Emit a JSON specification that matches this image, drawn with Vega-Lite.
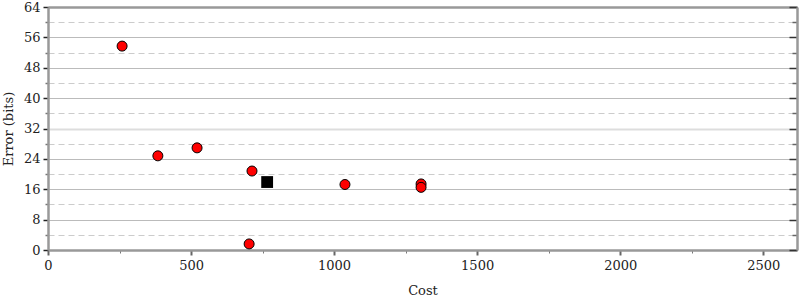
{
  "$schema": "https://vega.github.io/schema/vega-lite/v6.json",
  "autosize": "none",
  "width": 749,
  "height": 243,
  "padding": {"left": 48, "top": 7, "right": 3, "bottom": 50},
  "config": {
    "view": {"stroke": null},
    "font": "DejaVu Serif",
    "axis": {
      "labelFont": "DejaVu Serif",
      "titleFont": "DejaVu Serif",
      "labelFontSize": 13,
      "titleFontSize": 13,
      "titleFontWeight": "normal",
      "labelColor": "#222",
      "titleColor": "#222",
      "domainColor": "#999",
      "domainWidth": 2.5
    }
  },
  "data": {
    "values": [
      {"cost": 259, "error": 53.7, "kind": "alt"},
      {"cost": 384, "error": 24.8, "kind": "alt"},
      {"cost": 521, "error": 26.9, "kind": "alt"},
      {"cost": 713, "error": 20.8, "kind": "alt"},
      {"cost": 703, "error": 1.6, "kind": "alt"},
      {"cost": 1038, "error": 17.25, "kind": "alt"},
      {"cost": 1304, "error": 17.4, "kind": "alt"},
      {"cost": 1304, "error": 16.5, "kind": "alt"},
      {"cost": 766, "error": 17.9, "kind": "input"}
    ]
  },
  "layer": [
    {
      "transform": [{"filter": "datum.kind === 'alt'"}],
      "mark": {"type": "point", "shape": "circle", "filled": true, "fill": "#ff0000", "stroke": "#000", "strokeWidth": 1, "size": 100, "opacity": 1},
      "encoding": {
        "x": {
          "field": "cost", "type": "quantitative",
          "scale": {"domain": [0, 2618], "nice": false, "zero": false},
          "axis": {
            "orient": "bottom",
            "title": "Cost",
            "values": [0, 250, 500, 750, 1000, 1250, 1500, 1750, 2000, 2250, 2500],
            "labelExpr": "datum.value % 500 === 0 ? datum.label : ''",
            "grid": false,
            "tickSize": {"condition": {"test": "datum.value % 500 === 0", "value": 5}, "value": 3},
            "tickColor": {"condition": {"test": "datum.value % 500 === 0", "value": "#666"}, "value": "#777"},
            "tickWidth": {"condition": {"test": "datum.value % 500 === 0", "value": 2}, "value": 1},
            "labelPadding": 4,
            "titlePadding": 12,
            "format": "d",
            "labelFlush": false
          }
        },
        "y": {
          "field": "error", "type": "quantitative",
          "scale": {"domain": [0, 64], "nice": false},
          "axis": {
            "orient": "left",
            "title": "Error (bits)",
            "values": [0, 4, 8, 12, 16, 20, 24, 28, 32, 36, 40, 44, 48, 52, 56, 60, 64],
            "labelExpr": "datum.value % 8 === 0 ? datum.label : ''",
            "grid": true,
            "gridColor": {"condition": {"test": "datum.value === 32", "value": "#dddddd"}, "value": "#bbbbbb"},
            "gridWidth": {"condition": {"test": "datum.value === 32", "value": 2}, "value": 1.2},
            "gridDash": {"condition": {"test": "datum.value % 8 === 4", "value": [6, 4]}, "value": []},
            "gridOpacity": {"condition": {"test": "datum.value % 8 === 4", "value": 0.75}, "value": 1},
            "tickSize": {"condition": {"test": "datum.value % 8 === 0", "value": 5}, "value": 3},
            "tickColor": {"condition": {"test": "datum.value % 8 === 0", "value": "#222"}, "value": "#777"},
            "tickWidth": 1.5,
            "labelPadding": 3,
            "titlePadding": 8,
            "labelFlush": false
          }
        }
      }
    },
    {
      "transform": [{"filter": "datum.kind === 'input'"}],
      "mark": {"type": "square", "filled": true, "color": "#000", "size": 140, "opacity": 1},
      "encoding": {
        "x": {
          "field": "cost", "type": "quantitative",
          "scale": {"domain": [0, 2618], "nice": false, "zero": false},
          "axis": {"orient": "top", "title": null, "labels": false, "ticks": false, "grid": false}
        },
        "y": {
          "field": "error", "type": "quantitative",
          "scale": {"domain": [0, 64], "nice": false},
          "axis": {
            "orient": "right",
            "title": null,
            "labels": false,
            "grid": false,
            "values": [0, 4, 8, 12, 16, 20, 24, 28, 32, 36, 40, 44, 48, 52, 56, 60, 64],
            "tickSize": {"condition": {"test": "datum.value % 8 === 0", "value": -8}, "value": -5},
            "tickColor": {"condition": {"test": "datum.value % 8 === 0", "value": "#333"}, "value": "#666"},
            "tickWidth": 1.5
          }
        }
      }
    }
  ],
  "resolve": {"axis": {"x": "independent", "y": "independent"}}
}
